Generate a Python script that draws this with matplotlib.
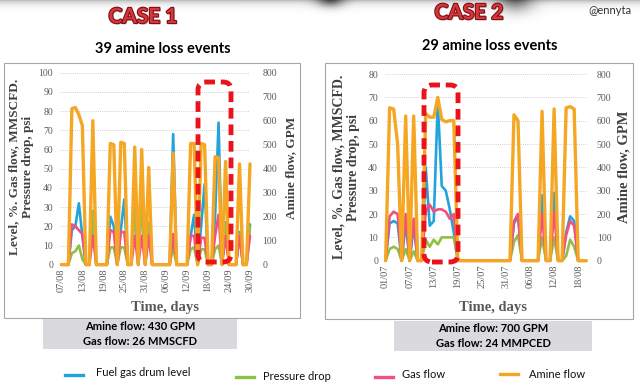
import matplotlib
matplotlib.use("Agg")
import matplotlib.pyplot as plt
import matplotlib.patheffects as pe
from matplotlib.patches import Rectangle, FancyBboxPatch
from matplotlib.lines import Line2D
import numpy as np
import pandas as pd

BLUE = "#22a3dc"
GREEN = "#8dc044"
PINK = "#f2507f"
ORANGE = "#f5a623"
GREY = "#595959"
RED = "#e8131b"
SANS = "Lato"

# ---- CASE 1: daily values 07/08 - 30/09
dates1 = pd.date_range("2019-08-07", "2019-09-30")
level1 = [0, 0, 0, 18, 20, 32, 15, 0, 0, 28,
          0, 0, 0, 0, 25, 20, 0, 18, 34, 0,
          0, 31, 0, 34, 0, 22, 0, 0, 0, 0,
          0, 0, 68, 0, 0, 0, 0, 15, 26, 0,
          20, 42, 0, 0, 25, 74, 0, 22, 0, 0,
          0, 17, 0, 0, 21]
pdrop1 = [0, 0, 0, 6, 7, 10, 3, 0, 0, 28,
          0, 0, 0, 0, 9, 9, 0, 9, 9, 0,
          0, 31, 0, 34, 0, 22, 0, 0, 0, 0,
          0, 0, 9, 0, 0, 0, 0, 8, 9, 0,
          8, 8, 0, 0, 8, 10, 0, 21, 0, 0,
          0, 16, 0, 0, 20]
gas1 = [0, 0, 0, 21, 20, 18, 16, 0, 0, 15,
        0, 0, 0, 0, 18, 17, 0, 17, 17, 0,
        0, 15, 0, 15, 0, 15, 0, 0, 0, 0,
        0, 0, 16, 0, 0, 0, 0, 15, 15, 0,
        14, 14, 0, 0, 15, 26, 0, 15, 0, 0,
        0, 15, 0, 0, 15]
amine1 = [0, 0, 0, 650, 655, 625, 580, 0, 0, 600,
          0, 0, 0, 0, 505, 500, 0, 510, 505, 0,
          0, 490, 0, 480, 0, 405, 0, 0, 0, 0,
          0, 0, 465, 0, 0, 0, 0, 505, 505, 0,
          505, 500, 0, 0, 450, 445, 0, 430, 0, 0,
          0, 420, 0, 0, 420]

# ---- CASE 2: daily values 01/07 - 20/08
dates2 = pd.date_range("2019-07-01", "2019-08-20")
level2 = [0, 16, 17, 16, 0, 16, 0, 15, 0, 0,
          40, 15, 17, 68, 32, 30, 22, 12, 0, 0,
          0, 0, 0, 0, 0, 0, 0, 0, 0, 0,
          0, 0, 16, 19, 0, 0, 0, 0, 0, 28,
          0, 0, 29, 0, 0, 12, 19, 17, 0, 0,
          0]
pdrop2 = [0, 5, 6, 5, 0, 5, 0, 4, 0, 0,
          9, 6, 9, 7, 10, 10, 10, 10, 0, 0,
          0, 0, 0, 0, 0, 0, 0, 0, 0, 0,
          0, 0, 8, 11, 0, 0, 0, 0, 0, 10,
          0, 0, 10, 0, 0, 2, 9, 6, 0, 0,
          0]
gas2 = [0, 19, 21, 20, 0, 20, 0, 18, 0, 0,
        21, 24, 21, 22, 22, 21, 18, 20, 0, 0,
        0, 0, 0, 0, 0, 0, 0, 0, 0, 0,
        0, 0, 17, 20, 0, 0, 0, 0, 0, 20,
        0, 0, 21, 0, 0, 11, 17, 15, 0, 0,
        0]
amine2 = [0, 655, 650, 500, 0, 620, 0, 620, 0, 0,
          630, 615, 615, 700, 605, 595, 600, 600, 0, 0,
          0, 0, 0, 0, 0, 0, 0, 0, 0, 0,
          0, 0, 625, 600, 0, 0, 0, 0, 0, 640,
          0, 0, 650, 0, 0, 655, 660, 650, 0, 0,
          0]

legend_labels = ["Fuel gas drum level", "Pressure drop", "Gas flow", "Amine flow"]

plt.rcParams["font.family"] = "Liberation Serif"
W, H = 640, 386


def px(x, y):
    """pixel position (from top left) -> figure fraction"""
    return x / W, 1 - y / H


fig = plt.figure(figsize=(W / 100, H / 100), dpi=100)
fig.patch.set_facecolor("white")

# shaded top strip
bg = fig.add_axes([0, 1 - 30 / H, 1, 30 / H], zorder=-5)
yy, xx = np.mgrid[0:30, 0:W]
shade = 0.25 * np.exp(-yy / 3.5)
shade += 0.45 * np.exp(-((xx - 330) / 14.0) ** 2 - (yy / 7.0) ** 2)
shade += 0.40 * np.exp(-((xx - 515) / 18.0) ** 2 - (yy / 12.0) ** 2)
bg.imshow(1 - np.clip(shade, 0, 1), cmap="gray", vmin=0, vmax=1, aspect="auto")
bg.axis("off")


def draw_case(rect, dates, level, pdrop, gas, amine, ymax, xlim, rpad):
    ax = fig.add_axes(rect)
    x = np.arange(len(dates))
    kw = dict(clip_on=False, solid_joinstyle="round", solid_capstyle="round")
    ax.plot(x, level, c=BLUE, lw=1.9, **kw)
    ax.plot(x, pdrop, c=GREEN, lw=1.9, **kw)
    ax.plot(x, gas, c=PINK, lw=1.9, **kw)
    ax2 = ax.twinx()
    ax2.plot(x, amine, c=ORANGE, lw=2.4, **kw)

    ax.set_ylim(0, ymax)
    ax2.set_ylim(0, 800)
    ax.set_yticks(range(0, ymax + 1, 10))
    ax2.set_yticks(range(0, 801, 100))
    ax.set_xticks(x[::6])
    ax.set_xticklabels([d.strftime("%d/%m") for d in dates[::6]],
                       rotation=90, rotation_mode="anchor", ha="right", va="center")
    ax.set_xlim(*xlim)
    ax.set_axisbelow(True)
    ax.grid(axis="y", color="#c4c4c4", lw=0.6, ls=(0, (1, 1.5)))
    for a in (ax, ax2):
        for s in a.spines.values():
            s.set_visible(False)
        a.tick_params(length=0, labelcolor=GREY, labelsize=7)
    ax.tick_params(axis="y", pad=5)
    ax.tick_params(axis="x", pad=3, labelsize=7.5)
    ax2.tick_params(axis="y", pad=rpad)
    return ax


draw_case([60 / W, 1 - 264.7 / H, 190 / W, 192 / H],
          dates1, level1, pdrop1, gas1, amine1, 100, (-0.4, 54.0), 9)
draw_case([385 / W, 1 - 260.7 / H, 202 / W, 186.7 / H],
          dates2, level2, pdrop2, gas2, amine2, 80, (-0.15, 50.2), 7)

# panel frames and grey note boxes
for x0, y0, x1, y1 in [(4, 63, 300, 318), (325, 63, 633, 319)]:
    fig.add_artist(Rectangle(px(x0, y1), (x1 - x0) / W, (y1 - y0) / H,
                             transform=fig.transFigure, fill=False,
                             ec="#a6a6a6", lw=0.8))
for x0, y0, x1, y1 in [(43, 319, 237, 349), (394, 321, 592, 351)]:
    fig.add_artist(Rectangle(px(x0, y1), (x1 - x0) / W, (y1 - y0) / H,
                             transform=fig.transFigure, fc="#d9d9de",
                             ec="none", zorder=1))

ylab = "Level, %. Gas flow, MMSCFD.\nPressure drop, psi"
fig.text(*px(21, 167), ylab, rotation=90, ha="center", va="center",
         fontsize=9.5, fontweight="bold", color="#404040", linespacing=1.25)
fig.text(*px(346, 167), ylab, rotation=90, ha="center", va="center",
         fontsize=10, fontweight="bold", color="#404040", linespacing=1.1)
fig.text(*px(291, 168), "Amine flow, GPM", rotation=90, ha="center",
         va="center", fontsize=9.5, fontweight="bold", color="#404040")
fig.text(*px(624, 167), "Amine flow, GPM", rotation=90, ha="center",
         va="center", fontsize=10.5, fontweight="bold", color="#404040")
fig.text(*px(165, 308), "Time, days", ha="center", va="center",
         fontsize=10.5, fontweight="bold", color=GREY)
fig.text(*px(493, 307), "Time, days", ha="center", va="center",
         fontsize=10.5, fontweight="bold", color=GREY)

# titles
case_fx = [pe.withSimplePatchShadow(offset=(1, -1), shadow_rgbFace="#888888", alpha=0.5),
           pe.withStroke(linewidth=1.6, foreground="#7a1014")]
fig.text(*px(143, 17), "CASE 1", ha="center", va="center", family=SANS,
         fontsize=15, fontweight="bold", color="#d9363c", path_effects=case_fx)
fig.text(*px(469, 13), "CASE 2", ha="center", va="center", family=SANS,
         fontsize=15, fontweight="bold", color="#d9363c", path_effects=case_fx)
fig.text(*px(610, 11), "@ennyta", ha="center", va="center", family=SANS,
         fontsize=8, color="#333333")
fig.text(*px(163, 49), "39 amine loss events", ha="center", va="center",
         family=SANS, fontsize=10.5, fontweight="bold", color="black")
fig.text(*px(490, 46), "29 amine loss events", ha="center", va="center",
         family=SANS, fontsize=10.5, fontweight="bold", color="black")

# notes
fig.text(*px(140, 334), "Amine flow: 430 GPM\nGas flow: 26 MMSCFD", ha="center",
         va="center", family=SANS, fontsize=8, fontweight="bold",
         color="black", linespacing=1.45)
fig.text(*px(493, 336), "Amine flow: 700 GPM\nGas flow: 24 MMPCED", ha="center",
         va="center", family=SANS, fontsize=8, fontweight="bold",
         color="black", linespacing=1.45)

# highlighted events (pixel boxes in inches)
for x0, y0, w, h in [(1.98, 1.24, 0.33, 1.80), (4.24, 1.24, 0.34, 1.77)]:
    fig.add_artist(FancyBboxPatch((x0, y0), w, h,
                                  boxstyle="round,pad=0,rounding_size=0.08",
                                  transform=fig.dpi_scale_trans, fill=False,
                                  ec=RED, lw=3.5, ls=(0, (2.2, 1.2)), zorder=10))

# legend
leg_colors = [BLUE, GREEN, PINK, ORANGE]
leg_pos = [(65, 96, 375, 373), (236, 263, 377, 377),
           (375, 402, 377, 375), (500, 529, 374, 375)]
for lab, col, (lx, tx, ly, ty) in zip(legend_labels, leg_colors, leg_pos):
    fig.add_artist(Line2D([lx / W, (lx + 18) / W], [1 - ly / H] * 2,
                          transform=fig.transFigure, color=col, lw=2.4))
    fig.text(*px(tx, ty), lab, ha="left", va="center", family=SANS,
             fontsize=8, color="#111111")

fig.savefig("out.png", dpi=100)
